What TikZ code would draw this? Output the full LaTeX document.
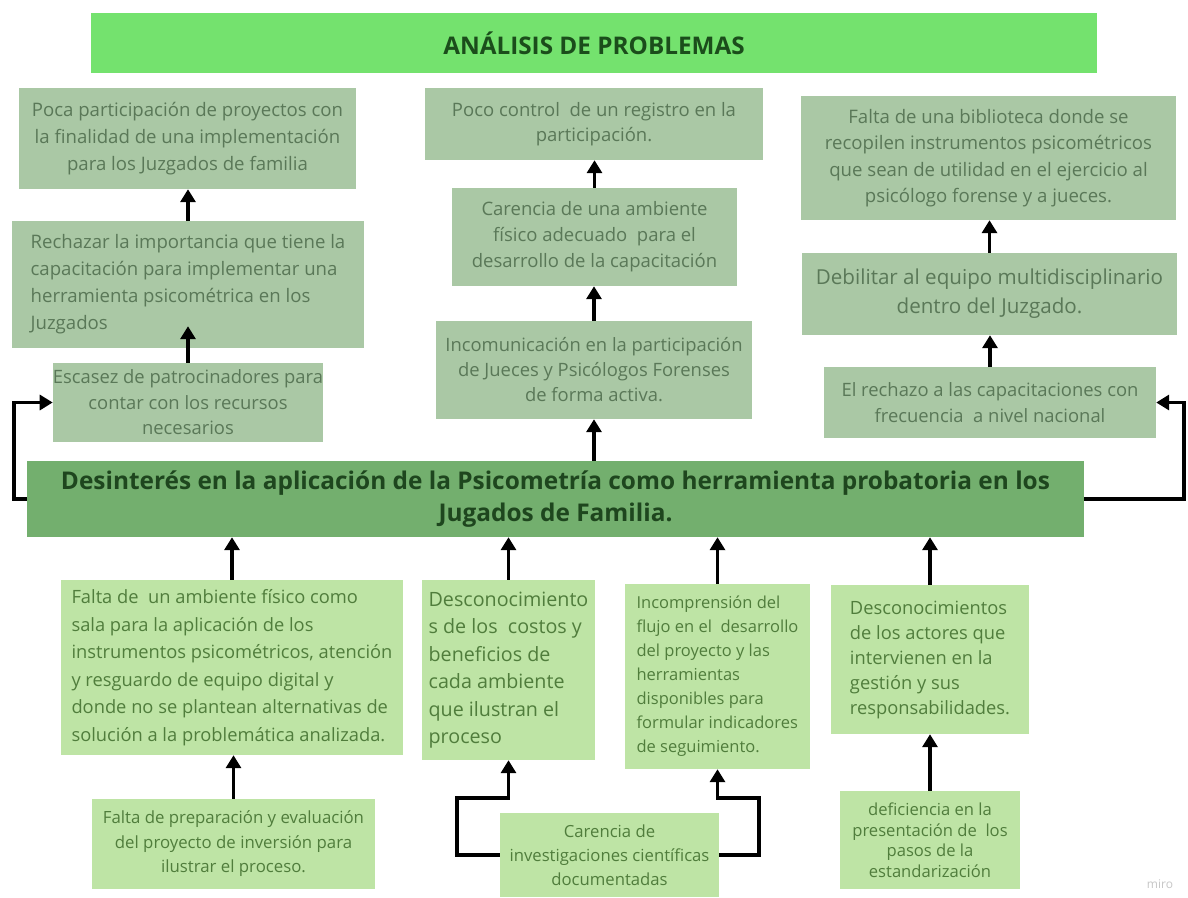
\documentclass[tikz,border=0pt]{standalone}
\usepackage{fontspec}
\setmainfont{Open Sans}
\usetikzlibrary{arrows.meta}
\definecolor{titlefill}{HTML}{74E26E}
\definecolor{titletext}{HTML}{1B4D1B}
\definecolor{upfill}{HTML}{AAC8A5}
\definecolor{uptext}{HTML}{5A7858}
\definecolor{mainfill}{HTML}{73AF6E}
\definecolor{maintext}{HTML}{1E461E}
\definecolor{lowfill}{HTML}{BEE4A5}
\definecolor{lowtext}{HTML}{507D3C}
\tikzset{
  fs/.style 2 args={font=\fontsize{#1}{#2}\selectfont},
  plainbox/.style={inner sep=0pt, align=center},
  effectbox/.style={plainbox, fill=upfill, text=uptext},
  causebox/.style={plainbox, fill=lowfill, text=lowtext},
  link/.style={line width=3.5pt, -{Triangle[width=15pt,length=13pt]}},
}
\begin{document}
\begin{tikzpicture}[x=1pt,y=-1pt]
  \fill[white] (0,0) rectangle (1188,897);
  \useasboundingbox (0,0) rectangle (1188,897);
  % title
  \node[plainbox, fill=titlefill, text=titletext, fs={24.3}{28}, minimum width=1006, minimum height=60] (titulo) at (594,43) {\bfseries ANÁLISIS DE PROBLEMAS};
  % effects, left column
  \node[effectbox, fs={18.6}{27}, minimum width=337, minimum height=101] (poca) at (187.5,138.5) {Poca participación de proyectos con\\la finalidad de una implementación\\para los Juzgados de familia};
  \node[effectbox, align=left, fs={18.6}{27}, minimum width=352, minimum height=127] (rechazar) at (188,284.5) {Rechazar la importancia que tiene la\\capacitación para implementar una\\herramienta psicométrica en los\\Juzgados};
  \node[effectbox, fs={18.4}{25.5}, minimum width=270, minimum height=79] (escasez) at (188,402.5) {Escasez de patrocinadores para\\contar con los recursos\\necesarios};
  % effects, middle column
  \node[effectbox, fs={18.5}{25}, minimum width=338, minimum height=72] (control) at (594,124) {Poco control\ \ de un registro en la\\participación.};
  \node[effectbox, fs={18.5}{26}, minimum width=285, minimum height=98] (ambiente) at (594.5,237) {Carencia de una ambiente\\físico adecuado\ \ para el\\desarrollo de la capacitación};
  \node[effectbox, fs={18.4}{25}, minimum width=316, minimum height=98] (incomunic) at (594,370) {Incomunicación en la participación\\de Jueces y Psicólogos Forenses\\de forma activa.};
  % effects, right column
  \node[effectbox, fs={18.6}{26.5}, minimum width=375, minimum height=124] (biblioteca) at (988.5,158) {Falta de una biblioteca donde se\\recopilen instrumentos psicométricos\\que sean de utilidad en el ejercicio al\\psicólogo forense y a jueces.};
  \node[effectbox, fs={20.6}{29}, minimum width=375, minimum height=82] (debilitar) at (989.5,294) {Debilitar al equipo multidisciplinario\\dentro del Juzgado.};
  \node[effectbox, fs={18.4}{26}, minimum width=332, minimum height=71] (rechazo) at (990,402.5) {El rechazo a las capacitaciones con\\frecuencia\ \ a nivel nacional};
  % central problem
  \node[plainbox, fill=mainfill, text=maintext, fs={24.4}{32}, minimum width=1057, minimum height=76] (desinteres) at (555.5,499) {\bfseries Desinterés en la aplicación de la Psicometría como herramienta probatoria en los\\\bfseries Jugados de Familia.};
  % causes
  \node[causebox, align=left, fs={18.3}{27.5}, minimum width=342, minimum height=175] (faltaamb) at (232,667.5) {Falta de\ \ un ambiente físico como\\sala para la aplicación de los\\instrumentos psicométricos, atención\\y resguardo de equipo digital y\\donde no se plantean alternativas de\\solución a la problemática analizada.};
  \node[causebox, align=left, fs={19.7}{27.5}, minimum width=173, minimum height=180] (costos) at (508.5,670) {Desconocimiento\\s de los\ \ costos y\\beneficios de\\cada ambiente\\que ilustran el\\proceso};
  \node[causebox, align=left, fs={16.5}{24}, minimum width=185, minimum height=185] (incompr) at (717.5,676.5) {Incomprensión del\\flujo en el\ \ desarrollo\\del proyecto y las\\herramientas\\disponibles para\\formular indicadores\\de seguimiento.};
  \node[causebox, align=left, fs={18.3}{25}, minimum width=198, minimum height=149] (actores) at (930,659.5) {Desconocimientos\\de los actores que\\intervienen en la\\gestión y sus\\responsabilidades.};
  % root causes
  \node[causebox, fs={16.8}{24.5}, minimum width=283, minimum height=90] (preparac) at (233.5,844) {Falta de preparación y evaluación\\del proyecto de inversión para\\ilustrar el proceso.};
  \node[causebox, fs={16.7}{24}, minimum width=219, minimum height=84] (investig) at (609.5,855) {Carencia de\\investigaciones científicas\\documentadas};
  \node[causebox, fs={16.6}{20.5}, minimum width=180, minimum height=98] (deficien) at (930,840) {deficiencia en la\\presentación de\ \ los\\pasos de la\\estandarización};
  \node[text=black!22, fs={12}{14}, inner sep=0pt] (miro) at (1160,884) {miro};
  % arrows up
  \draw[link] (rechazar.north) -- (rechazar.north |- poca.south);
  \draw[link] (escasez.north) -- ([yshift=22pt]escasez.north |- rechazar.south);
  \draw[link] (ambiente.north) -- (ambiente.north |- control.south);
  \draw[link] (incomunic.north) -- (incomunic.north |- ambiente.south);
  \draw[link] (desinteres.north -| incomunic) -- (incomunic.south);
  \draw[link] (debilitar.north) -- (debilitar.north |- biblioteca.south);
  \draw[link] (rechazo.north) -- (rechazo.north |- debilitar.south);
  \draw[link] (desinteres.west) -- ++(-13,0) |- (escasez.west);
  \draw[link] (desinteres.east) -- ++(100,0) |- (rechazo.east);
  \draw[link] (faltaamb.north) -- (faltaamb.north |- desinteres.south);
  \draw[link] (costos.north) -- (costos.north |- desinteres.south);
  \draw[link] (incompr.north) -- (incompr.north |- desinteres.south);
  \draw[link] (actores.north) -- (actores.north |- desinteres.south);
  \draw[link] (preparac.north) -- (preparac.north |- faltaamb.south);
  \draw[link] (deficien.north) -- (actores.south);
  \draw[link] (investig.west) -| ++(-43,-57) -| (costos.south);
  \draw[link] (investig.east) -| ++(40,-57) -| (incompr.south);
\end{tikzpicture}
\end{document}
